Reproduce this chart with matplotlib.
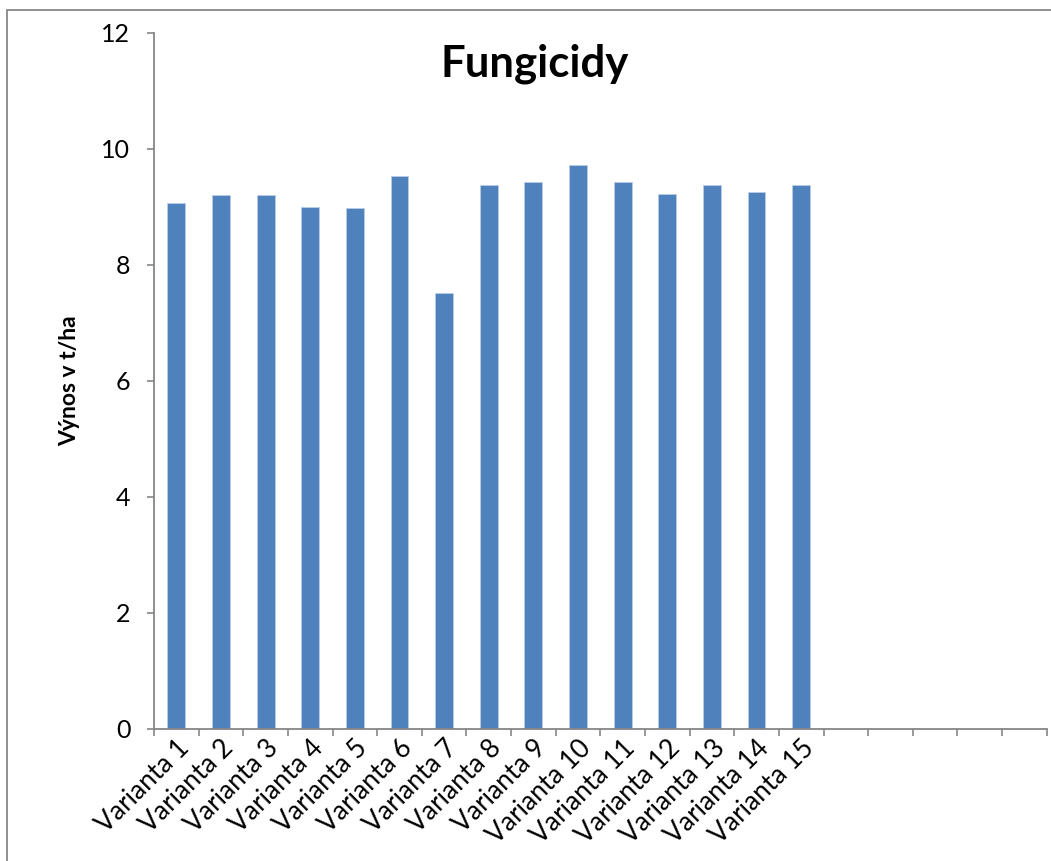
import matplotlib
matplotlib.use("Agg")
import matplotlib.pyplot as plt
from matplotlib.patches import Rectangle
import numpy as np

categories = [f"Varianta {i}" for i in range(1, 16)]
values = [9.06, 9.20, 9.21, 9.00, 8.97, 9.53, 7.52, 9.37, 9.43, 9.72,
          9.43, 9.22, 9.37, 9.25, 9.37]
n_slots = 20
yticks = [0, 2, 4, 6, 8, 10, 12]

plt.rcParams['font.family'] = ['Lato', 'DejaVu Sans']

fig = plt.figure(figsize=(10.51, 8.61), dpi=100)
fig.patches.append(Rectangle((7/1051, -0.1), 1.2, 1.1 - 10/861, transform=fig.transFigure,
                             fill=False, edgecolor='#878787', linewidth=1.3, zorder=0))

ax = fig.add_axes([154/1051, 1 - 728.7/861, (1046.7 - 154)/1051, (728.7 - 32.7)/861])
x = np.arange(len(categories))
ax.bar(x, values, width=0.4, color='#4F81BD', edgecolor='#B9CDE5', linewidth=0.6, zorder=2)

ax.set_xlim(-0.5, n_slots - 0.5)
ax.set_ylim(0, 12)
ax.set_yticks(yticks)
ax.set_yticklabels([str(t) for t in yticks], fontsize=18)

ax.set_xticks(np.arange(-0.5, n_slots, 1.0))
ax.set_xticklabels([])
ax.set_xticks(x, minor=True)
ax.set_xticklabels(categories, minor=True, rotation=45, ha='right',
                   rotation_mode='anchor', fontsize=19)
ax.tick_params(axis='x', which='minor', length=0, pad=5)
ax.tick_params(axis='x', which='major', length=5, color='#868686', width=1.2)
ax.tick_params(axis='y', length=5, color='#868686', width=1.2, pad=12)

for s in ['top', 'right']:
    ax.spines[s].set_visible(False)
for s in ['left', 'bottom']:
    ax.spines[s].set_color('#868686')
    ax.spines[s].set_linewidth(1.3)

ax.set_ylabel("Výnos v t/ha", fontsize=16.5, fontweight='bold')
ax.yaxis.set_label_coords(-74/(1046.7 - 154), 0.5)
fig.text(535/1051, 1 - 64/861, "Fungicidy", fontsize=31.5, fontweight='bold',
         ha='center', va='center')

fig.savefig("out.png", dpi=100)
